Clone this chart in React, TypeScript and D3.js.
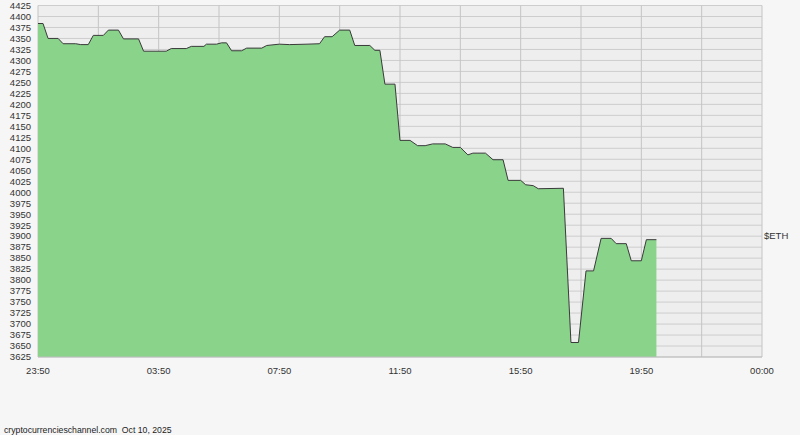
import * as d3 from "d3";
import React from "react";

// minutes after 23:50 (Oct 9) and ETH price in USD
const minutes = [
  0, 10, 20, 40, 50, 75, 85, 100, 110, 130,
  140, 160, 170, 200, 210, 255, 265, 295, 305, 330,
  335, 355, 365, 375, 385, 405, 415, 445, 455, 480,
  500, 535, 560, 570, 585, 600, 620, 630, 660, 670,
  680, 690, 710, 720, 740, 755, 770, 785, 810, 825,
  840, 855, 865, 890, 905, 925, 935, 960, 970, 985,
  995, 1045, 1060, 1075, 1090, 1105, 1120, 1140, 1150, 1170,
  1180, 1200, 1210, 1230,
];
const prices = [
  4384, 4384, 4350, 4350, 4338, 4338, 4336, 4336, 4357, 4357,
  4369, 4369, 4349, 4349, 4321, 4321, 4327, 4327, 4332, 4332,
  4337, 4337, 4340, 4340, 4322, 4322, 4328, 4328, 4334, 4337,
  4336, 4337, 4338, 4354, 4354, 4369, 4369, 4334, 4334, 4323,
  4323, 4246, 4246, 4118, 4118, 4106, 4106, 4110, 4110, 4102,
  4102, 4085, 4089, 4089, 4074, 4074, 4027, 4027, 4017, 4015,
  4008, 4009, 3658, 3658, 3821, 3821, 3895, 3895, 3883, 3883,
  3844, 3844, 3892, 3892,
];
const xTickLabels = ["23:50", "03:50", "07:50", "11:50", "15:50", "19:50", "00:00"];
const seriesLabel = "$ETH";
const footer = "cryptocurrencieschannel.com  Oct 10, 2025";

const width = 800;
const height = 435;
const plot = { left: 38, right: 762, top: 5.5, bottom: 357 };

export default function App() {
  const x = d3.scaleLinear([0, 1440], [plot.left, plot.right]);
  const y = d3.scaleLinear([3625, 4425], [plot.bottom, plot.top]);

  const yTicks = d3.range(3625, 4426, 25);
  const xGrid = d3.range(0, 1441, 120);
  const xTicks = d3.range(0, 1441, 240);

  const idx = d3.range(minutes.length);
  const area = d3
    .area<number>()
    .x((i) => x(minutes[i]))
    .y0(plot.bottom)
    .y1((i) => y(prices[i]))(idx);
  const line = d3
    .line<number>()
    .x((i) => x(minutes[i]))
    .y((i) => y(prices[i]))(idx);

  const font = "Liberation Sans, Arial, sans-serif";

  return (
    <svg
      width={width}
      height={height}
      style={{ position: "absolute", left: 0, top: 0, background: "#f6f6f6" }}
    >
      <rect
        x={plot.left}
        y={plot.top}
        width={plot.right - plot.left}
        height={plot.bottom - plot.top}
        fill="#eeeeee"
      />
      {yTicks.map((t) => (
        <line
          key={"h" + t}
          x1={plot.left}
          x2={plot.right}
          y1={y(t)}
          y2={y(t)}
          stroke="#cdcdcd"
          strokeWidth={1}
        />
      ))}
      {xGrid.map((t) => (
        <line
          key={"v" + t}
          x1={x(t)}
          x2={x(t)}
          y1={plot.top}
          y2={plot.bottom}
          stroke="#c4c4c4"
          strokeWidth={1}
        />
      ))}
      <path d={area ?? ""} fill="#89d38b" />
      <path d={line ?? ""} fill="none" stroke="#3a3a3a" strokeWidth={1} />
      <line
        x1={plot.left}
        x2={plot.right}
        y1={plot.bottom}
        y2={plot.bottom}
        stroke="#bdbdbd"
      />

      {yTicks.map((t) => (
        <text
          key={"yl" + t}
          x={31}
          y={y(t)}
          dy="0.35em"
          textAnchor="end"
          fontFamily={font}
          fontSize={9.5}
          fill="#333"
        >
          {t}
        </text>
      ))}
      {xTicks.map((t, i) => (
        <text
          key={"xl" + t}
          x={x(t)}
          y={373.5}
          textAnchor="middle"
          fontFamily={font}
          fontSize={9.5}
          fill="#333"
        >
          {xTickLabels[i]}
        </text>
      ))}
      <text
        x={764}
        y={y(3900)}
        dy="0.35em"
        fontFamily={font}
        fontSize={9.5}
        fill="#333"
      >
        {seriesLabel}
      </text>
      <text
        x={4}
        y={432.5}
        fontFamily={font}
        fontSize={8.7}
        fill="#222"
        style={{ whiteSpace: "pre" }}
      >
        {footer}
      </text>
    </svg>
  );
}
